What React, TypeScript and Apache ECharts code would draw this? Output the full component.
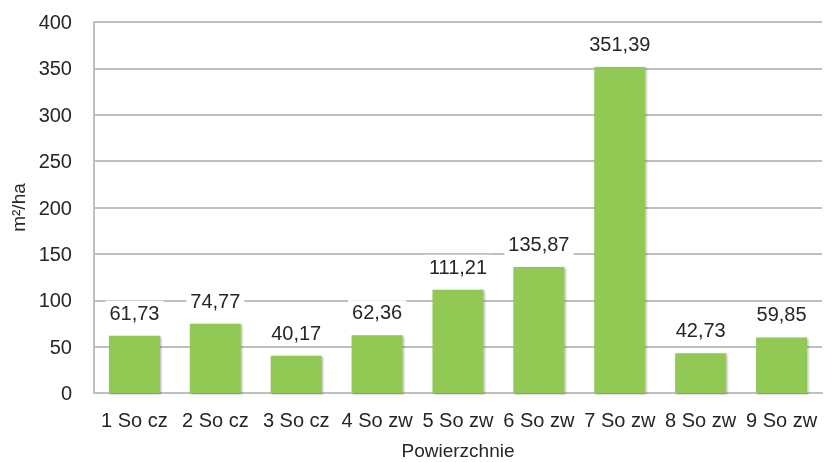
import React, { useEffect, useRef } from "react";
import * as echarts from "echarts";

const categories = ["1 So cz", "2 So cz", "3 So cz", "4 So zw", "5 So zw", "6 So zw", "7 So zw", "8 So zw", "9 So zw"];
const values = [61.73, 74.77, 40.17, 62.36, 111.21, 135.87, 351.39, 42.73, 59.85];
const yTicks = { min: 0, max: 400, interval: 50 };

const FONT = "Liberation Sans, Arial, sans-serif";
const TEXT = "#262626";

export default function App() {
  const ref = useRef<HTMLDivElement>(null);

  useEffect(() => {
    if (!ref.current) return;
    const chart = echarts.init(ref.current, null, { renderer: "svg" });
    chart.setOption({
      animation: false,
      grid: { left: 94, right: 3, top: 22, bottom: 69, outerBoundsMode: "none" },
      xAxis: {
        type: "category",
        data: categories,
        name: "Powierzchnie",
        nameLocation: "middle",
        nameGap: 48,
        nameTextStyle: { fontFamily: FONT, fontSize: 19, color: TEXT },
        axisLine: { lineStyle: { color: "#bfbfbf", width: 2 } },
        axisTick: { show: false },
        axisLabel: { fontFamily: FONT, fontSize: 20, color: TEXT, margin: 17, interval: 0 },
      },
      yAxis: {
        type: "value",
        min: yTicks.min,
        max: yTicks.max,
        interval: yTicks.interval,
        name: "m²/ha",
        nameLocation: "middle",
        nameGap: 66,
        nameTextStyle: { fontFamily: FONT, fontSize: 19, color: TEXT },
        axisLine: { show: true, lineStyle: { color: "#bfbfbf", width: 2 } },
        axisTick: { show: false },
        splitLine: { lineStyle: { color: "#bfbfbf", width: 2 } },
        axisLabel: { fontFamily: FONT, fontSize: 20, color: TEXT, margin: 22 },
      },
      series: [
        {
          type: "bar",
          data: values,
          barWidth: 51,
          itemStyle: {
            color: "#92c955",
            shadowColor: "rgba(0,0,0,0.35)",
            shadowBlur: 2,
            shadowOffsetX: 1,
            shadowOffsetY: 1,
          },
          label: {
            show: true,
            position: "top",
            distance: 11,
            fontFamily: FONT,
            fontSize: 20,
            color: TEXT,
            backgroundColor: "#ffffff",
            padding: [2, 4],
            formatter: (p: any) => p.value.toFixed(2).replace(".", ","),
          },
        },
      ],
    });
    return () => chart.dispose();
  }, []);

  return (
    <div
      ref={ref}
      style={{ position: "fixed", left: 0, top: 0, width: 825, height: 462 }}
    />
  );
}
